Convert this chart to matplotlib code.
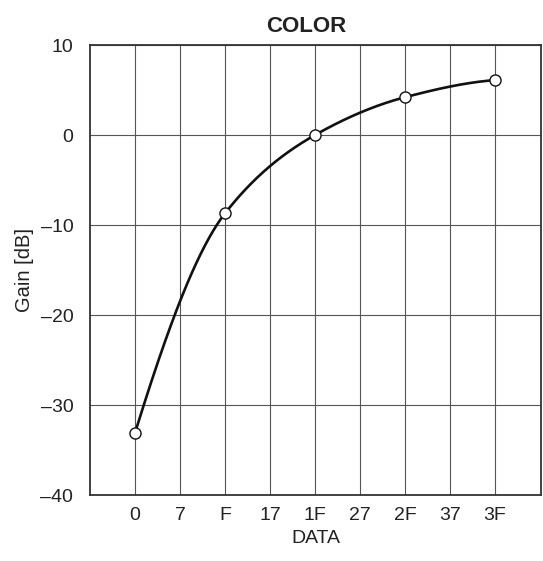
import numpy as np
import matplotlib
matplotlib.use("Agg")
import matplotlib.pyplot as plt

plt.rcParams['font.family'] = ['Liberation Sans', 'DejaVu Sans']

# Data
tick_labels = ['0', '7', 'F', '17', '1F', '27', '2F', '37', '3F']
point_labels = ['0', 'F', '1F', '2F', '3F']
gain_db = [-33.1, -8.7, 0.0, 4.2, 6.1]
y_ticks = [10, 0, -10, -20, -30, -40]

tick_pos = np.arange(len(tick_labels))
x_pos = [tick_labels.index(l) for l in point_labels]


def pchip(x, y, xs):
    x = np.asarray(x, float); y = np.asarray(y, float)
    h = np.diff(x)
    d = np.diff(y) / h
    n = len(x)
    m = np.zeros(n)
    for i in range(1, n - 1):
        if d[i - 1] * d[i] <= 0:
            m[i] = 0
        else:
            w1 = 2 * h[i] + h[i - 1]
            w2 = h[i] + 2 * h[i - 1]
            m[i] = (w1 + w2) / (w1 / d[i - 1] + w2 / d[i])

    def end(h0, h1, d0, d1):
        v = ((2 * h0 + h1) * d0 - h0 * d1) / (h0 + h1)
        if np.sign(v) != np.sign(d0):
            v = 0
        elif np.sign(d0) != np.sign(d1) and abs(v) > abs(3 * d0):
            v = 3 * d0
        return v
    m[0] = end(h[0], h[1], d[0], d[1])
    m[-1] = end(h[-1], h[-2], d[-1], d[-2])
    out = np.empty_like(xs)
    for k, xv in enumerate(xs):
        i = min(max(np.searchsorted(x, xv) - 1, 0), n - 2)
        t = (xv - x[i]) / h[i]
        h00 = 2 * t**3 - 3 * t**2 + 1
        h10 = t**3 - 2 * t**2 + t
        h01 = -2 * t**3 + 3 * t**2
        h11 = t**3 - t**2
        out[k] = h00 * y[i] + h10 * h[i] * m[i] + h01 * y[i + 1] + h11 * h[i] * m[i + 1]
    return out


fig = plt.figure(figsize=(5.43, 5.61), dpi=100)
ax = fig.add_axes([90 / 543, 66 / 561, 451 / 543, 450 / 561])

xs = np.linspace(x_pos[0], x_pos[-1], 400)
ax.plot(xs, pchip(x_pos, gain_db, xs), color='#111111', lw=1.9, zorder=3)
ax.plot(x_pos, gain_db, 'o', ms=8, mfc='white', mec='#111111', mew=1.0, zorder=4)

ax.set_xlim(-1, 9.02)
ax.set_ylim(-40, 10)
ax.set_xticks(tick_pos)
ax.set_xticklabels(tick_labels)
ax.set_yticks(y_ticks)
ax.set_yticklabels([str(v).replace('-', '\u2013') for v in y_ticks])
ax.tick_params(length=0, labelsize=14, colors='#222222')
ax.tick_params(axis='x', pad=9)
ax.tick_params(axis='y', pad=12)
ax.grid(True, color='#555555', lw=0.8)
for s in ax.spines.values():
    s.set_color('#333333'); s.set_linewidth(1.3)

ax.set_title('COLOR', fontsize=16, fontweight='bold', pad=9, color='#222222', x=0.48)
ax.set_xlabel('DATA', fontsize=14, color='#222222', labelpad=4)
ax.set_ylabel('Gain [dB]', fontsize=14.5, color='#222222', labelpad=5)

fig.savefig('out.png', dpi=100)
